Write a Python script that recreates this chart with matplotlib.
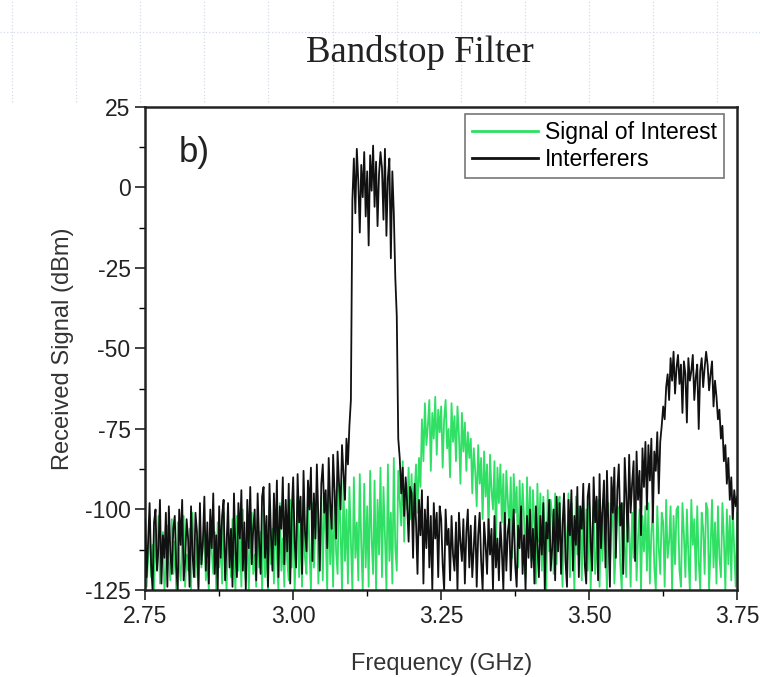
import numpy as np
import matplotlib.pyplot as plt
from matplotlib.ticker import MultipleLocator
from matplotlib.lines import Line2D

# frequency grid (GHz), one sample every 2.5 MHz
freq = np.linspace(2.75, 3.75, 401)

# Interferers (dBm) in 0.05 GHz blocks
interferers = [
    -103, -121, -110, -98, -117, -125, -104, -100, -119, -112, -97, -123, -108, -115, -101, -124, -99, -113, -120, -106,  # 2.75
    -102, -118, -125, -100, -111, -97, -122, -116, -103, -109, -124, -99, -114, -121, -101, -107, -125, -98, -117, -110,  # 2.80
    -96, -119, -104, -123, -100, -112, -95, -120, -108, -125, -99, -115, -102, -97, -122, -111, -98, -118, -106, -124,    # 2.85
    -95, -113, -121, -98, -109, -94, -119, -104, -125, -97, -112, -93, -117, -106, -100, -122, -95, -110, -120, -96,      # 2.90
    -93, -115, -102, -124, -92, -108, -119, -95, -111, -91, -121, -99, -106, -90, -117, -97, -113, -92, -123, -101,       # 2.95
    -90, -110, -118, -89, -104, -96, -120, -88, -107, -113, -91, -100, -87, -116, -95, -109, -86, -103, -119, -92,        # 3.00
    -86, -101, -94, -112, -84, -98, -106, -83, -95, -109, -82, -92, -100, -80, -89, -97, -78, -86, -74, -66,              # 3.05
    -4, 9, -8, 12, 2, -14, 7, -3, 11, -9, 5, -18, 10, -1, 13, -6, 8, -12, 4, 11,                                          # 3.10
    6, -10, 12, -15, 3, 9, -22, 5, -8, -28, -40, -78, -84, -95, -87, -102, -90, -98, -110, -93,                           # 3.15
    -95, -115, -92, -104, -120, -97, -108, -94, -123, -100, -112, -96, -118, -102, -125, -98, -109, -101, -121, -99,      # 3.20
    -103, -117, -125, -100, -111, -106, -122, -102, -114, -119, -104, -125, -101, -110, -116, -103, -123, -107, -100, -118,  # 3.25
    -105, -121, -112, -102, -124, -108, -101, -116, -125, -104, -111, -120, -103, -114, -106, -125, -102, -118, -109, -122,  # 3.30
    -104, -113, -125, -101, -119, -107, -103, -122, -110, -100, -117, -124, -105, -112, -99, -120, -108, -125, -102, -115,   # 3.35
    -100, -118, -106, -123, -99, -111, -121, -102, -114, -98, -125, -104, -109, -97, -119, -112, -100, -122, -96, -113,      # 3.40
    -98, -120, -105, -95, -116, -124, -97, -108, -94, -119, -102, -111, -93, -121, -99, -106, -92, -117, -123, -96,          # 3.45
    -92, -110, -119, -90, -104, -96, -122, -89, -112, -100, -91, -118, -88, -106, -124, -90, -101, -87, -115, -94,           # 3.50
    -86, -105, -98, -120, -84, -95, -110, -83, -101, -92, -85, -116, -82, -97, -88, -108, -81, -93, -79, -100,               # 3.55
    -80, -91, -78, -104, -82, -88, -76, -95, -79, -74, -68, -72, -62, -58, -66, -53, -60, -51, -64, -56,                     # 3.60
    -52, -61, -55, -70, -54, -58, -73, -53, -60, -57, -52, -66, -59, -55, -75, -57, -53, -62, -56, -51,                      # 3.65
    -55, -63, -58, -54, -68, -60, -65, -72, -69, -78, -74, -85, -80, -92, -84, -97, -90, -103, -94, -99,                     # 3.70
    -96,                                                                                                                     # 3.75
]

# Signal of interest (dBm)
signal = [
    -108, -124, -115, -104, -121, -111, -125, -106, -118, -102, -123, -113, -107, -125, -119, -105, -116, -122, -103, -120,  # 2.75
    -110, -125, -104, -117, -122, -108, -102, -124, -114, -119, -106, -125, -101, -115, -121, -109, -124, -103, -118, -112,  # 2.80
    -105, -122, -116, -125, -102, -113, -120, -107, -125, -104, -118, -110, -123, -101, -117, -125, -106, -112, -121, -103,  # 2.85
    -115, -125, -102, -119, -108, -124, -100, -116, -122, -105, -125, -111, -101, -120, -114, -124, -103, -118, -107, -125,  # 2.90
    -100, -121, -112, -125, -99, -117, -106, -123, -102, -114, -125, -98, -119, -109, -124, -101, -116, -122, -97, -118,     # 2.95
    -99, -125, -110, -96, -121, -104, -124, -97, -115, -120, -95, -112, -125, -98, -118, -106, -94, -123, -111, -96,         # 3.00
    -122, -95, -108, -125, -93, -117, -102, -124, -94, -113, -120, -92, -106, -125, -91, -116, -100, -123, -93, -110,        # 3.05
    -125, -90, -115, -104, -122, -89, -111, -125, -92, -118, -99, -124, -88, -109, -120, -91, -125, -97, -114, -87,          # 3.10
    -121, -93, -108, -125, -86, -116, -101, -123, -84, -112, -119, -88, -97, -105, -85, -110, -92, -100, -87, -103,          # 3.15
    -89, -106, -95, -86, -101, -84, -93, -72, -85, -67, -80, -74, -66, -88, -70, -78, -65, -83, -69, -76,                    # 3.20
    -68, -87, -72, -66, -81, -75, -90, -67, -79, -71, -85, -68, -77, -92, -70, -82, -73, -88, -76, -84,                      # 3.25
    -78, -95, -81, -88, -99, -80, -92, -84, -103, -82, -96, -86, -107, -83, -94, -100, -85, -110, -87, -98,                  # 3.30
    -86, -104, -89, -112, -88, -97, -106, -90, -115, -89, -101, -93, -118, -91, -108, -92, -103, -121, -90, -111,            # 3.35
    -93, -116, -94, -105, -123, -92, -110, -95, -119, -96, -107, -125, -94, -113, -97, -102, -120, -95, -117, -98,           # 3.40
    -96, -111, -124, -97, -106, -118, -95, -121, -98, -109, -125, -96, -114, -99, -104, -122, -97, -115, -100, -119,         # 3.45
    -98, -125, -108, -99, -120, -113, -97, -124, -101, -116, -99, -110, -125, -98, -118, -105, -100, -123, -112, -99,        # 3.50
    -100, -117, -125, -98, -111, -121, -99, -106, -124, -101, -115, -97, -122, -109, -100, -125, -102, -113, -99, -119,      # 3.55
    -98, -123, -107, -100, -118, -125, -99, -112, -120, -101, -104, -124, -97, -115, -110, -99, -125, -102, -117, -100,      # 3.60
    -99, -119, -124, -98, -108, -121, -100, -114, -125, -97, -111, -103, -122, -99, -116, -125, -101, -106, -120, -98,       # 3.65
    -100, -125, -112, -97, -118, -104, -123, -99, -115, -121, -98, -109, -125, -100, -117, -102, -122, -99, -113, -124,      # 3.70
    -101,                                                                                                                    # 3.75
]

x_ticks = [2.75, 3.00, 3.25, 3.50, 3.75]
y_ticks = [25, 0, -25, -50, -75, -100, -125]

GREEN = '#2fe064'
BLACK = '#111111'

plt.rcParams['font.family'] = ['Liberation Sans', 'DejaVu Sans']
plt.rcParams['axes.unicode_minus'] = False

fig = plt.figure(figsize=(7.6, 6.77), dpi=100)
ax = fig.add_axes([0.191, 0.1285, 0.779, 0.7135])

# faint dotted slide grid behind the title
for xv in np.arange(0.016, 1.0, 0.0843):
    fig.add_artist(Line2D([xv, xv], [0.85, 1.0], transform=fig.transFigure,
                          color='#d6dbea', lw=0.9, ls=':', zorder=0))
fig.add_artist(Line2D([0.0, 1.0], [0.953, 0.953], transform=fig.transFigure,
                      color='#d6dbea', lw=0.9, ls=':', zorder=0))

ax.plot(freq, signal, color=GREEN, lw=1.3, label='Signal of Interest', zorder=2)
ax.plot(freq, interferers, color=BLACK, lw=1.3, label='Interferers', zorder=3)

ax.set_xlim(2.75, 3.75)
ax.set_ylim(-125, 25)
ax.set_xticks(x_ticks)
ax.set_xticklabels([f'{v:.2f}' for v in x_ticks])
ax.set_yticks(y_ticks)
ax.xaxis.set_minor_locator(MultipleLocator(0.125))
ax.yaxis.set_minor_locator(MultipleLocator(12.5))
ax.tick_params(which='major', direction='out', length=7, width=1.2, labelsize=16.5, colors='#222222')
ax.tick_params(which='minor', direction='out', length=4, width=1.0)
for s in ax.spines.values():
    s.set_linewidth(1.8)
    s.set_color('#222222')

ax.set_xlabel('Frequency (GHz)', fontsize=17, color='#333333', labelpad=18)
ax.set_ylabel('Received Signal (dBm)', fontsize=17, color='#333333', labelpad=8)

ax.text(0.057, 0.905, 'b)', transform=ax.transAxes, fontsize=25, color='#222222',
        ha='left', va='center')

leg = ax.legend(loc='upper right', bbox_to_anchor=(0.985, 0.995),
                fontsize=16.5, frameon=True, fancybox=False, handlelength=2.9,
                handletextpad=0.3, borderpad=0.3, labelspacing=0.2, borderaxespad=0.2)
leg.get_frame().set_edgecolor('#555555')
leg.get_frame().set_linewidth(1.2)
for ln in leg.get_lines():
    ln.set_linewidth(2.0)

fig.text(0.553, 0.922, 'Bandstop Filter', ha='center', va='center', fontsize=26.5,
         family=['Liberation Serif', 'DejaVu Serif'], color='#222222')

fig.savefig('out.png', dpi=100)
